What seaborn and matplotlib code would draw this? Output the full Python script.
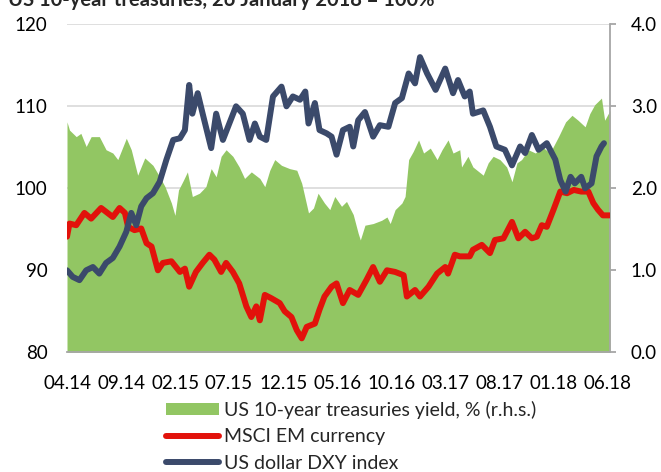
import pandas as pd
import seaborn as sns
import matplotlib.pyplot as plt
import matplotlib.dates as mdates
from matplotlib.patches import Patch
from matplotlib.lines import Line2D

# DATA
# US dollar DXY index, 26 Jan 2018 = 100
dxy_dates = ['2014-04-01', '2014-04-17', '2014-05-06', '2014-05-25', '2014-06-13', '2014-07-01',
             '2014-07-20', '2014-08-08', '2014-08-27', '2014-09-15', '2014-09-29', '2014-10-13',
             '2014-10-27', '2014-11-11', '2014-11-29', '2014-12-18', '2015-01-06', '2015-01-25',
             '2015-02-13', '2015-02-27', '2015-03-11', '2015-03-20', '2015-04-04', '2015-04-18',
             '2015-05-12', '2015-05-26', '2015-06-14', '2015-07-02', '2015-07-21', '2015-08-09',
             '2015-08-28', '2015-09-12', '2015-09-26', '2015-10-14', '2015-11-02', '2015-11-26',
             '2015-12-10', '2015-12-28', '2016-01-17', '2016-02-01', '2016-02-10', '2016-02-28',
             '2016-03-12', '2016-04-01', '2016-04-15', '2016-04-29', '2016-05-17', '2016-06-05',
             '2016-06-15', '2016-06-29', '2016-07-18', '2016-08-10', '2016-08-29', '2016-09-22',
             '2016-10-11', '2016-10-30', '2016-11-18', '2016-12-06', '2016-12-20', '2017-01-09',
             '2017-02-02', '2017-03-01', '2017-03-23', '2017-04-06', '2017-04-25', '2017-05-09',
             '2017-05-18', '2017-06-16', '2017-07-05', '2017-07-23', '2017-08-16', '2017-09-05',
             '2017-09-28', '2017-10-12', '2017-10-31', '2017-11-19', '2017-12-12', '2018-01-05',
             '2018-01-19', '2018-02-03', '2018-02-17', '2018-03-01', '2018-03-19', '2018-03-30',
             '2018-04-17', '2018-05-01', '2018-05-15', '2018-05-22']
dxy_vals = [90.0, 89.2, 88.8, 90.0, 90.4, 89.6,
            90.9, 91.5, 92.9, 94.7, 97.0, 95.5,
            97.8, 98.8, 99.4, 100.8, 103.5, 105.9,
            106.1, 107.1, 112.6, 109.1, 111.6, 109.1,
            104.9, 109.1, 105.9, 107.9, 110.0, 109.1,
            105.9, 107.9, 106.3, 105.9, 111.2, 112.4,
            110.0, 111.2, 110.8, 111.8, 107.9, 110.4,
            107.1, 106.7, 106.3, 104.1, 107.1, 107.5,
            105.1, 108.3, 109.3, 106.3, 107.7, 107.5,
            110.4, 111.0, 114.0, 112.8, 116.0, 114.0,
            112.0, 114.6, 111.6, 113.2, 111.2, 111.8,
            109.1, 109.5, 107.5, 105.1, 104.7, 102.8,
            105.1, 104.3, 106.5, 104.7, 105.5, 103.5,
            101.0, 99.6, 101.4, 100.6, 101.4, 100.0,
            100.6, 103.9, 105.1, 105.5]

# MSCI EM currency index, 26 Jan 2018 = 100
em_dates = ['2014-04-01', '2014-04-08', '2014-04-27', '2014-05-20', '2014-06-08', '2014-07-06',
            '2014-08-08', '2014-08-27', '2014-09-11', '2014-09-20', '2014-10-08', '2014-10-27',
            '2014-11-11', '2014-11-25', '2014-12-13', '2014-12-27', '2015-01-20', '2015-02-13',
            '2015-02-27', '2015-03-11', '2015-03-30', '2015-04-18', '2015-05-07', '2015-05-21',
            '2015-06-09', '2015-06-23', '2015-07-12', '2015-07-30', '2015-08-19', '2015-09-02',
            '2015-09-16', '2015-09-26', '2015-10-10', '2015-10-28', '2015-11-21', '2015-12-05',
            '2015-12-24', '2016-01-08', '2016-01-22', '2016-02-05', '2016-02-28', '2016-03-12',
            '2016-03-26', '2016-04-15', '2016-04-29', '2016-05-17', '2016-06-05', '2016-06-29',
            '2016-07-22', '2016-08-10', '2016-08-29', '2016-09-18', '2016-10-11', '2016-11-04',
            '2016-11-13', '2016-12-06', '2016-12-20', '2017-01-13', '2017-02-06', '2017-03-01',
            '2017-03-09', '2017-03-28', '2017-04-11', '2017-05-09', '2017-05-18', '2017-06-12',
            '2017-07-05', '2017-07-19', '2017-08-12', '2017-09-05', '2017-09-23', '2017-10-12',
            '2017-10-31', '2017-11-14', '2017-11-28', '2017-12-12', '2017-12-31', '2018-01-19',
            '2018-02-07', '2018-02-26', '2018-03-19', '2018-04-08', '2018-04-22', '2018-05-05',
            '2018-05-19', '2018-06-08']
em_vals = [94.1, 95.7, 95.5, 97.0, 96.3, 97.6,
           96.5, 97.6, 97.0, 95.3, 94.9, 95.1,
           93.3, 92.9, 90.0, 90.9, 91.1, 89.8,
           90.2, 88.0, 89.8, 90.9, 91.9, 91.3,
           89.8, 90.9, 89.8, 88.4, 85.6, 84.3,
           85.6, 83.9, 87.0, 86.6, 86.0, 85.0,
           84.3, 82.7, 81.7, 83.1, 83.5, 85.2,
           86.8, 88.0, 88.4, 86.0, 87.6, 87.0,
           88.8, 90.4, 88.6, 90.0, 89.8, 89.4,
           86.8, 87.6, 86.8, 88.0, 89.6, 90.4,
           89.6, 91.9, 91.7, 91.7, 92.5, 93.1,
           92.1, 93.7, 93.9, 95.9, 93.9, 94.7,
           93.9, 94.1, 95.5, 95.3, 97.4, 99.6,
           99.4, 99.8, 99.6, 99.6, 98.2, 97.4,
           96.7, 96.7]

# US 10-year treasuries yield, %
ust_dates = ['2014-04-01', '2014-04-08', '2014-04-27', '2014-05-10', '2014-05-25', '2014-06-08',
             '2014-07-01', '2014-07-20', '2014-08-08', '2014-08-22', '2014-09-15', '2014-09-29',
             '2014-10-17', '2014-11-06', '2014-11-29', '2014-12-18', '2015-01-02', '2015-01-20',
             '2015-01-30', '2015-02-09', '2015-02-23', '2015-03-06', '2015-03-20', '2015-04-09',
             '2015-04-27', '2015-05-12', '2015-05-26', '2015-06-09', '2015-06-23', '2015-07-12',
             '2015-07-30', '2015-08-14', '2015-09-02', '2015-09-26', '2015-10-10', '2015-10-24',
             '2015-11-07', '2015-11-26', '2015-12-19', '2016-01-08', '2016-01-22', '2016-02-10',
             '2016-02-24', '2016-03-08', '2016-03-26', '2016-04-10', '2016-04-24', '2016-05-13',
             '2016-05-27', '2016-06-15', '2016-06-29', '2016-07-05', '2016-07-18', '2016-08-10',
             '2016-09-03', '2016-09-18', '2016-09-27', '2016-10-11', '2016-10-30', '2016-11-08',
             '2016-11-18', '2016-12-01', '2016-12-16', '2016-12-30', '2017-01-18', '2017-02-06',
             '2017-02-20', '2017-03-09', '2017-03-23', '2017-04-11', '2017-04-16', '2017-05-04',
             '2017-05-18', '2017-06-16', '2017-06-30', '2017-07-14', '2017-08-02', '2017-08-21',
             '2017-09-05', '2017-09-19', '2017-10-02', '2017-10-21', '2017-11-10', '2017-11-28',
             '2017-12-21', '2018-01-14', '2018-02-03', '2018-02-21', '2018-03-10', '2018-03-30',
             '2018-04-12', '2018-04-26', '2018-05-15', '2018-05-24', '2018-06-08']
ust_vals = [2.81, 2.71, 2.63, 2.67, 2.51, 2.63,
            2.63, 2.47, 2.43, 2.35, 2.61, 2.47,
            2.16, 2.37, 2.28, 2.14, 2.02, 1.82,
            1.67, 1.98, 2.10, 2.20, 1.90, 1.94,
            2.02, 2.24, 2.14, 2.39, 2.47, 2.39,
            2.26, 2.12, 2.20, 2.12, 2.02, 2.22,
            2.35, 2.28, 2.24, 2.22, 2.06, 1.70,
            1.76, 1.94, 1.82, 1.74, 1.90, 1.78,
            1.84, 1.68, 1.45, 1.37, 1.55, 1.57,
            1.61, 1.65, 1.57, 1.74, 1.82, 1.90,
            2.35, 2.45, 2.59, 2.43, 2.49, 2.35,
            2.47, 2.59, 2.43, 2.47, 2.26, 2.39,
            2.26, 2.16, 2.31, 2.39, 2.35, 2.26,
            2.08, 2.31, 2.35, 2.47, 2.43, 2.51,
            2.43, 2.63, 2.81, 2.89, 2.83, 2.75,
            2.91, 3.02, 3.10, 2.83, 2.95]

tick_dates = pd.date_range('2014-04-01', '2018-06-01', freq='5MS')

title = 'US 10-year treasuries, 26 January 2018 = 100%'
lbl_ust = 'US 10-year treasuries yield, % (r.h.s.)'
lbl_em = 'MSCI EM currency'
lbl_dxy = 'US dollar DXY index'

green = '#92c663'
red = '#e2120b'
navy = '#3b4a6b'
grey = '#a6a6a6'

sns.set_theme(style='white')
plt.rcParams['font.family'] = ['Lato', 'DejaVu Sans']

fig = plt.figure(figsize=(6.61, 4.72), dpi=100)
ax = fig.add_axes([67 / 661, 1 - 352.3 / 472, 543 / 661, 328 / 472])
ax2 = ax.twinx()
ax.set_zorder(ax2.get_zorder() + 1)
ax.patch.set_visible(False)

# yield area on the right axis, behind the lines
ax2.fill_between(pd.to_datetime(ust_dates), ust_vals, 0, color=green, linewidth=0, zorder=2)
ax2.set_ylim(0, 4)
ax2.set_yticks([0, 1, 2, 3, 4])
ax2.set_yticklabels([f'{v:.1f}' for v in [0, 1, 2, 3, 4]])
ax2.grid(axis='y', color='#d9d9d9', linewidth=1.2, zorder=0)
ax2.set_axisbelow(True)

sns.lineplot(x=pd.to_datetime(em_dates), y=em_vals, ax=ax, color=red, linewidth=4.3)
sns.lineplot(x=pd.to_datetime(dxy_dates), y=dxy_vals, ax=ax, color=navy, linewidth=4.3)
ax.set_ylim(80, 120)
ax.set_yticks([80, 90, 100, 110, 120])
ax.set_xlim(pd.Timestamp('2014-04-01'), pd.Timestamp('2018-06-08'))
ax.set_xticks(tick_dates)
ax.xaxis.set_major_formatter(mdates.DateFormatter('%m.%y'))
ax.set_xlabel('')
ax.set_ylabel('')

for a in (ax, ax2):
    for s in a.spines.values():
        s.set_visible(False)
ax2.spines['right'].set_visible(True)
ax2.spines['right'].set_color(grey)
ax2.spines['right'].set_linewidth(1.3)
ax2.spines['bottom'].set_visible(True)
ax2.spines['bottom'].set_color(grey)
ax2.spines['bottom'].set_linewidth(1.3)

ax.tick_params(axis='y', length=0, pad=14, labelsize=13.5, colors='black')
ax.tick_params(axis='x', length=0, pad=16, labelsize=13.5, colors='black')
ax2.tick_params(axis='y', direction='out', length=4, width=1.3, color=grey, pad=11,
                labelsize=13.5, labelcolor='black', right=True)
# downward ticks on the bottom spine
ax2.tick_params(axis='x', bottom=True, direction='out', length=5, width=1.3, color=grey,
                labelbottom=False)
ax2.set_xticks(tick_dates)

fig.text(8 / 661, 1 - 6 / 472, title, fontsize=14.5, fontweight='bold', ha='left', va='baseline')

handles = [Patch(color=green, linewidth=0),
           Line2D([], [], color=red, linewidth=4.3),
           Line2D([], [], color=navy, linewidth=4.3)]
fig.legend(handles, [lbl_ust, lbl_em, lbl_dxy], loc='upper left',
           bbox_to_anchor=(166 / 661, 1 - 401 / 472), frameon=False, fontsize=14,
           borderpad=0, borderaxespad=0, handlelength=2.7, handletextpad=0.28,
           labelspacing=0.48, handleheight=0.6)

fig.savefig('out.png', dpi=100)
